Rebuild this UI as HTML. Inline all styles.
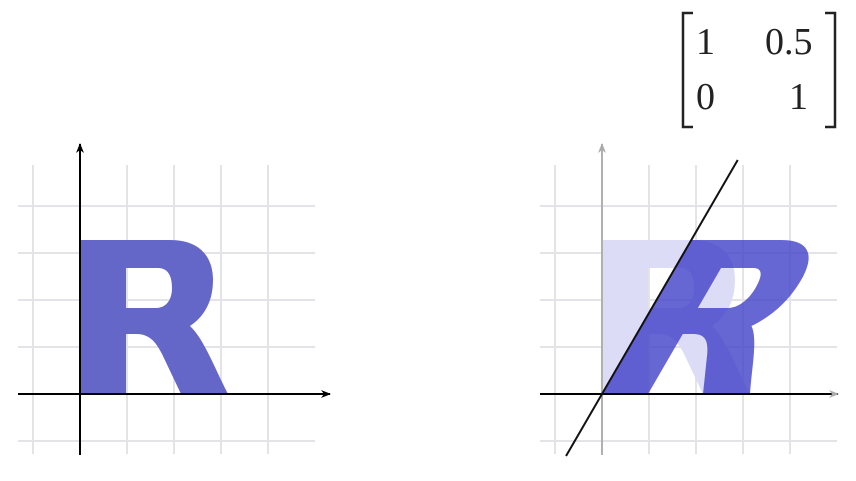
<!DOCTYPE html>
<html><head><meta charset="utf-8"><style>
body{margin:0;background:#fff;}
svg{display:block;}
text{font-family:"Liberation Serif",serif;font-size:38px;fill:#222;}
</style></head><body>
<svg width="856" height="481" viewBox="0 0 856 481">
<defs>
<marker id="ab" markerWidth="10" markerHeight="8" refX="9" refY="4" orient="auto" markerUnits="userSpaceOnUse"><path d="M0,0 L10,4 L0,8 L3,4 Z" fill="#000"/></marker>
<marker id="ag" markerWidth="10" markerHeight="8" refX="9" refY="4" orient="auto" markerUnits="userSpaceOnUse"><path d="M0,0 L10,4 L0,8 L3,4 Z" fill="#aaa"/></marker>
</defs>
<g id="left"></g>
<g id="right"></g>
<g>
<path d="M693,13 L683,13 L683,127 L693,127" fill="none" stroke="#222" stroke-width="2.5"/>
<path d="M825,13 L835,13 L835,127 L825,127" fill="none" stroke="#222" stroke-width="2.5"/>
<text x="696" y="54">1</text>
<text x="765" y="54">0.5</text>
<text x="696" y="109">0</text>
<text x="789" y="109">1</text>
</g>
</svg>
<script>
const shear = [1, 0.58, 0, 1];
const gridSteps = [-1, 0, 1, 2, 3, 4];
const unit = 47;
const NS = "http://www.w3.org/2000/svg";
const R = "M0,0 L0,154 L90,154 C120,154 133,137 133,114 C133,90 122,76 110,68 C124,55 135,25 148,0 L101,0 L82,40 C75,54 68,60 56,60 L46,60 L46,0 Z M46,126 L78,126 C88,126 92,118 92,106 C92,94 86,86 76,86 L46,86 Z";
function mk(tag, attrs, parent){const e=document.createElementNS(NS,tag);for(const k in attrs)e.setAttribute(k,attrs[k]);parent.appendChild(e);return e;}
function panel(g, ox, oy, sheared){
  const xL=ox-62, xR=ox+235, yT=oy-234, yB=oy+60;
  for(const s of gridSteps){
    const v=mk('line',{x1:ox+s*unit,x2:ox+s*unit,y1:yT+5,y2:yB,stroke:'#e3e3e8','stroke-width':2},g);
    
    
    const h=mk('line',{x1:xL,x2:xR,y1:oy-s*unit,y2:oy-s*unit,stroke:'#e3e3e8','stroke-width':2},g);
    
    
  }
  if(!sheared){
    const r=mk('path',{d:R,fill:'#6567c8','fill-rule':'evenodd',transform:`matrix(1,0,0,-1,${ox},${oy})`},g);
    
    
  } else {
    const r0=mk('path',{d:R,fill:'#dcdcf6','fill-rule':'evenodd',transform:`matrix(1,0,0,-1,${ox},${oy})`},g);
    
    
    const r1=mk('path',{d:R,fill:'rgba(60,60,200,0.78)','fill-rule':'evenodd',transform:`matrix(${shear[0]},${shear[2]},${shear[1]},${-shear[3]},${ox},${oy})`},g);
    
    
  }
  const ya=mk('line',{x1:ox,x2:ox,y1:oy+61,y2:oy-250,stroke:sheared?'#b0b0b0':'#000','stroke-width':2,'marker-end':sheared?'url(#ag)':'url(#ab)'},g);
  
  
  const xa=mk('line',{x1:xL,x2:ox+(sheared?236:250),y1:oy,y2:oy,stroke:'#000','stroke-width':2,'marker-end':sheared?'url(#ag)':'url(#ab)'},g);
  
  
  if(sheared){
    const k=shear[1];
    const l=mk('line',{x1:ox-k*62,y1:oy+62,x2:ox+k*234,y2:oy-234,stroke:'#111','stroke-width':2},g);
    
    
  }
}
panel(document.getElementById('left'),80,394,false);
panel(document.getElementById('right'),602,394,true);
</script>
</body></html>
